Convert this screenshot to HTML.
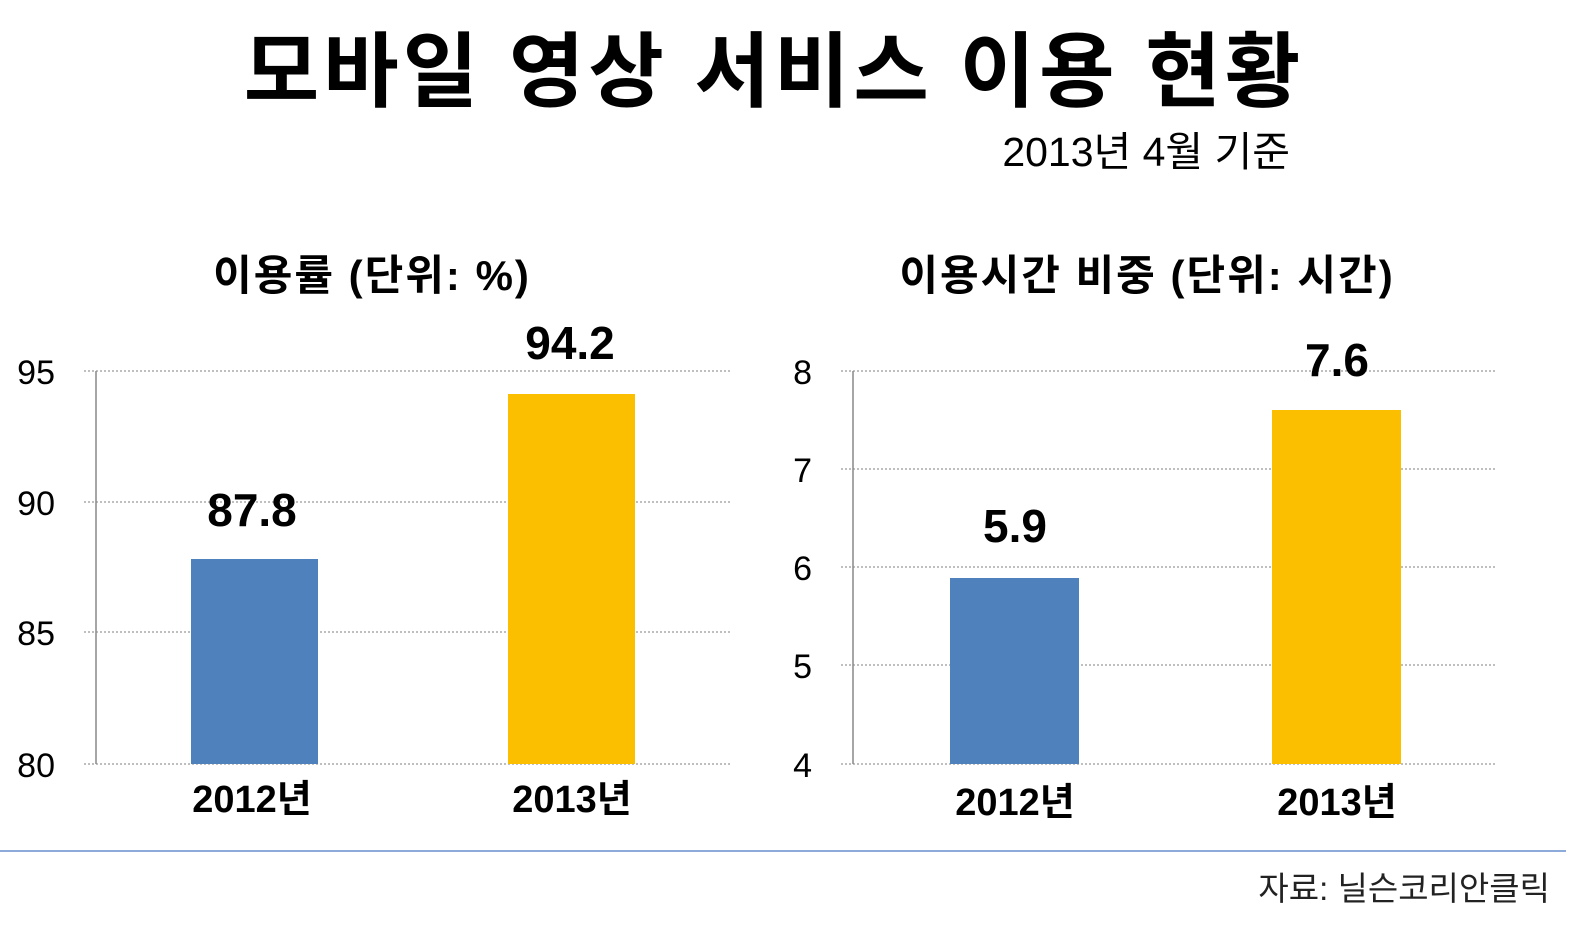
<!DOCTYPE html>
<html><head><meta charset="utf-8"><style>
html,body{margin:0;padding:0;background:#fff;}
svg text{font-family:"Liberation Sans","Noto Sans CJK KR","NanumGothic",sans-serif;}
</style></head><body>
<svg width="1584" height="940" viewBox="0 0 1584 940" xmlns="http://www.w3.org/2000/svg">
<rect width="1584" height="940" fill="#fff"/>
<text x="774" y="100" font-size="82" font-weight="bold" text-anchor="middle" letter-spacing="4" fill="#000">모바일 영상 서비스 이용 현황</text>
<text x="1290" y="166" font-size="41" text-anchor="end" fill="#000">2013년 4월 기준</text>

<text x="372" y="290" font-size="42" font-weight="bold" text-anchor="middle" letter-spacing="2">이용률 (단위: %)</text>
<text x="1147" y="290" font-size="42" font-weight="bold" text-anchor="middle" letter-spacing="2">이용시간 비중 (단위: 시간)</text>

<g stroke="#999" stroke-width="1.2" stroke-dasharray="2,2">
<line x1="84" y1="371" x2="730" y2="371"/>
<line x1="84" y1="502" x2="730" y2="502"/>
<line x1="84" y1="632" x2="730" y2="632"/>
<line x1="84" y1="764" x2="730" y2="764"/>
<line x1="841" y1="371" x2="1497" y2="371"/>
<line x1="841" y1="469" x2="1497" y2="469"/>
<line x1="841" y1="567" x2="1497" y2="567"/>
<line x1="841" y1="665" x2="1497" y2="665"/>
<line x1="841" y1="764" x2="1497" y2="764"/>
</g>
<line x1="96" y1="371" x2="96" y2="764" stroke="#888" stroke-width="1.5"/>
<line x1="853" y1="371" x2="853" y2="764" stroke="#888" stroke-width="1.5"/>

<g font-size="34" fill="#000" text-anchor="end">
<text x="55" y="384">95</text><text x="55" y="515">90</text><text x="55" y="645">85</text><text x="55" y="777">80</text>
<text x="812" y="384">8</text><text x="812" y="482">7</text><text x="812" y="580">6</text><text x="812" y="678">5</text><text x="812" y="777">4</text>
</g>

<rect x="191" y="559" width="127" height="205" fill="#4f81bd"/>
<rect x="508" y="394" width="127" height="370" fill="#fcbf00"/>
<rect x="950" y="578" width="129" height="186" fill="#4f81bd"/>
<rect x="1272" y="410" width="129" height="354" fill="#fcbf00"/>

<g font-size="46" font-weight="bold" text-anchor="middle" fill="#000">
<text x="252" y="526">87.8</text>
<text x="570" y="359">94.2</text>
<text x="1015" y="542">5.9</text>
<text x="1337" y="376">7.6</text>
</g>
<g font-size="38" font-weight="bold" text-anchor="middle" fill="#000">
<text x="252" y="812">2012년</text>
<text x="572" y="812">2013년</text>
<text x="1015" y="815">2012년</text>
<text x="1337" y="815">2013년</text>
</g>

<line x1="0" y1="851" x2="1566" y2="851" stroke="#8eaadb" stroke-width="2"/>
<text x="1550" y="900" font-size="33" text-anchor="end" fill="#222">자료: 닐슨코리안클릭</text>
</svg>
</body></html>
